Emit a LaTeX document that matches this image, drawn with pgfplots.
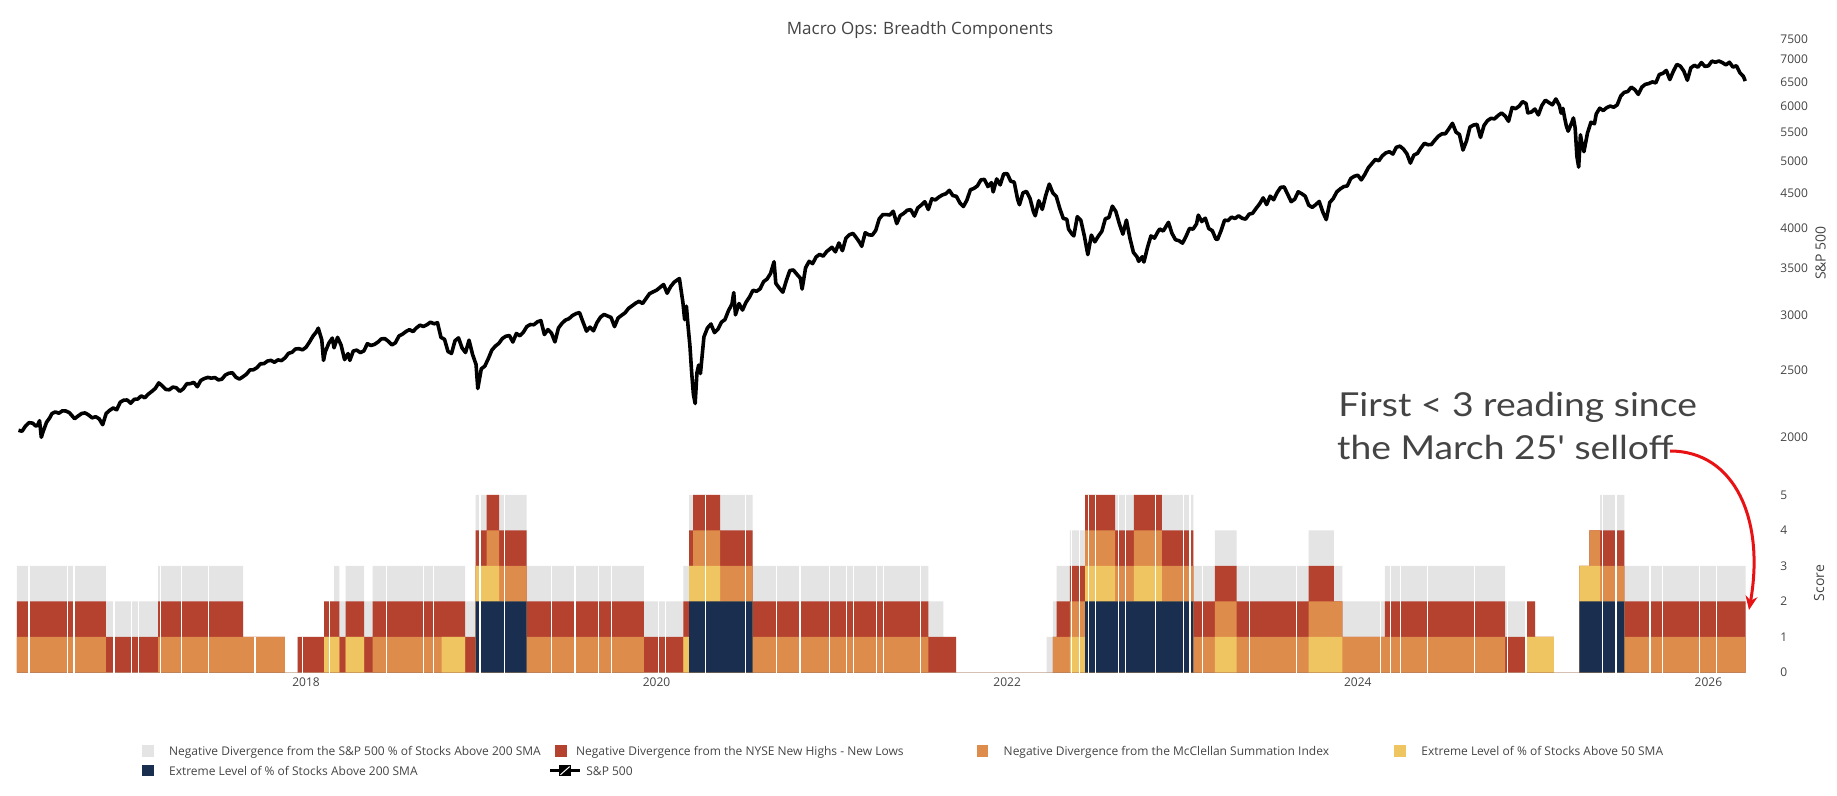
\documentclass[border=0pt]{standalone}
\usepackage{fontspec}
\setmainfont{Open Sans}
\newfontfamily\handfont[FakeStretch=1.13]{Lato}
\usepackage{pgfplots}
\usepackage{pgfplotstable}
\pgfplotsset{compat=1.18}
\usetikzlibrary{arrows.meta}
\definecolor{cgray}{RGB}{228,228,228}
\definecolor{cred}{RGB}{181,65,47}
\definecolor{corange}{RGB}{222,140,75}
\definecolor{cyellow}{RGB}{238,197,97}
\definecolor{cnavy}{RGB}{26,46,80}
\definecolor{textgray}{RGB}{68,68,68}
\definecolor{arrowred}{RGB}{232,18,20}

% n = Extreme 200 SMA (2 points), y = Extreme 50 SMA, o = McClellan, r = NH-NL, g = S&P 200 SMA divergence
\pgfplotstableread{
x        n y o r g
2016.350 0 0 1 1 1
2016.859 0 0 0 1 1
2017.156 0 0 1 1 1
2017.641 0 0 1 0 0
2017.880 0 0 0 0 0
2017.952 0 0 0 1 0
2018.103 0 1 0 1 0
2018.160 0 1 0 1 1
2018.190 0 0 0 1 1
2018.226 0 1 0 1 1
2018.331 0 0 0 1 1
2018.380 0 0 1 1 1
2018.774 0 1 0 1 1
2018.907 0 0 0 1 1
2018.968 2 1 0 1 1
2019.031 2 1 1 1 0
2019.101 2 0 1 1 1
2019.259 0 0 1 1 1
2019.928 0 0 0 1 1
2020.152 0 1 0 1 1
2020.185 2 1 0 1 1
2020.209 2 1 1 1 0
2020.362 2 0 1 1 1
2020.548 0 0 1 1 1
2021.550 0 0 0 1 1
2021.636 0 0 0 1 0
2021.708 0 0 0 0 0
2022.225 0 0 0 0 1
2022.260 0 0 1 0 1
2022.282 0 0 1 1 1
2022.358 0 1 1 1 1
2022.444 2 1 1 1 0
2022.615 2 0 1 1 1
2022.723 2 1 1 1 0
2022.883 2 0 1 1 1
2023.062 0 0 1 1 1
2023.185 0 1 1 1 1
2023.309 0 0 1 1 1
2023.720 0 1 1 1 1
2023.864 0 1 1 0 1
2023.912 0 0 1 0 1
2024.155 0 0 1 1 1
2024.840 0 0 0 1 1
2024.964 0 1 0 1 0
2025.011 0 1 0 0 0
2025.119 0 0 0 0 0
2025.264 2 1 0 0 0
2025.321 2 1 1 0 0
2025.382 2 0 1 1 1
2025.520 0 0 1 1 1
2026.213 0 0 0 0 0
}\bars

\newcommand{\tickfont}{\fontsize{6pt}{7.2pt}\selectfont}

\begin{document}
\begin{tikzpicture}
\path[use as bounding box] (0,0) rectangle (918.5pt,-398pt);

% ---------------- S&P 500 panel ----------------
\begin{axis}[
  at={(4pt,-235.5pt)}, anchor=south west, scale only axis,
  width=883.5pt, height=218pt,
  xmin=2016.30, xmax=2026.38,
  ymode=log, ymin=1788.5, ymax=7598,
  ytick={2000,2500,3000,3500,4000,4500,5000,5500,6000,6500,7000,7500},
  yticklabels={2000,2500,3000,3500,4000,4500,5000,5500,6000,6500,7000,7500},
  xtick=\empty,
  axis line style={draw=none}, tick style={draw=none},
  ytick pos=right, yticklabel pos=right,
  yticklabel style={font=\tickfont, text=textgray, inner sep=0pt, xshift=2.5pt, anchor=west},
]
\addplot[black, line width=1.8pt, line join=round] coordinates {
(2016.36,2047) (2016.38,2040) (2016.40,2076) (2016.42,2099) (2016.44,2096) (2016.46,2075) (2016.47,2085) (2016.48,2113) (2016.49,2000) (2016.50,2037)
(2016.52,2102) (2016.54,2137) (2016.55,2163) (2016.57,2175) (2016.59,2166) (2016.61,2183) (2016.63,2182) (2016.65,2170) (2016.68,2127) (2016.70,2146)
(2016.72,2164) (2016.74,2168) (2016.76,2153) (2016.78,2133) (2016.80,2141) (2016.82,2126) (2016.84,2085) (2016.86,2164) (2016.88,2187) (2016.90,2204)
(2016.92,2191) (2016.94,2246) (2016.96,2262) (2016.98,2263) (2017.00,2239) (2017.02,2268) (2017.04,2270) (2017.06,2294) (2017.08,2280) (2017.10,2307)
(2017.12,2328) (2017.14,2351) (2017.16,2395) (2017.18,2372) (2017.20,2344) (2017.22,2341) (2017.24,2362) (2017.26,2357) (2017.28,2329) (2017.30,2349)
(2017.32,2388) (2017.34,2389) (2017.36,2399) (2017.38,2365) (2017.40,2415) (2017.42,2430) (2017.44,2439) (2017.46,2433) (2017.48,2438) (2017.50,2419)
(2017.52,2425) (2017.54,2459) (2017.56,2473) (2017.58,2477) (2017.60,2441) (2017.62,2426) (2017.64,2444) (2017.66,2465) (2017.68,2500) (2017.70,2502)
(2017.72,2519) (2017.74,2552) (2017.76,2553) (2017.78,2575) (2017.80,2581) (2017.82,2565) (2017.84,2585) (2017.86,2579) (2017.88,2602) (2017.90,2642)
(2017.92,2651) (2017.94,2680) (2017.96,2683) (2017.98,2673) (2018.00,2695) (2018.02,2743) (2018.04,2798) (2018.06,2839) (2018.07,2872) (2018.09,2762)
(2018.10,2581) (2018.11,2656) (2018.13,2732) (2018.15,2779) (2018.16,2691) (2018.18,2786) (2018.20,2716) (2018.22,2588) (2018.24,2640) (2018.25,2581)
(2018.27,2663) (2018.29,2670) (2018.31,2648) (2018.33,2663) (2018.35,2728) (2018.37,2712) (2018.39,2721) (2018.41,2742) (2018.43,2772) (2018.45,2774)
(2018.47,2749) (2018.49,2717) (2018.51,2736) (2018.53,2798) (2018.55,2815) (2018.57,2840) (2018.59,2858) (2018.61,2840) (2018.63,2874) (2018.65,2901)
(2018.67,2888) (2018.69,2905) (2018.71,2930) (2018.73,2914) (2018.75,2925) (2018.77,2785) (2018.79,2768) (2018.81,2658) (2018.83,2641) (2018.85,2755)
(2018.87,2781) (2018.89,2690) (2018.91,2649) (2018.93,2760) (2018.95,2633) (2018.97,2546) (2018.98,2351) (2019.00,2510) (2019.02,2532) (2019.04,2596)
(2019.06,2670) (2019.08,2706) (2019.10,2731) (2019.12,2775) (2019.14,2796) (2019.16,2803) (2019.18,2743) (2019.20,2822) (2019.22,2800) (2019.24,2834)
(2019.26,2888) (2019.28,2907) (2019.30,2905) (2019.32,2933) (2019.34,2945) (2019.36,2812) (2019.38,2859) (2019.40,2826) (2019.42,2744) (2019.44,2873)
(2019.46,2918) (2019.48,2950) (2019.50,2964) (2019.52,2995) (2019.54,3014) (2019.56,3025) (2019.58,2932) (2019.60,2844) (2019.62,2882) (2019.64,2847)
(2019.66,2926) (2019.68,2979) (2019.70,3006) (2019.72,2991) (2019.74,2976) (2019.76,2887) (2019.78,2970) (2019.80,2997) (2019.82,3022) (2019.84,3067)
(2019.86,3093) (2019.88,3120) (2019.90,3140) (2019.92,3117) (2019.94,3169) (2019.96,3221) (2019.98,3240) (2020.00,3258) (2020.02,3289) (2020.04,3320)
(2020.06,3225) (2020.08,3297) (2020.10,3345) (2020.12,3373) (2020.13,3386) (2020.15,3128) (2020.16,2954) (2020.17,3090) (2020.18,2882) (2020.19,2711)
(2020.20,2480) (2020.21,2304) (2020.22,2237) (2020.23,2475) (2020.24,2541) (2020.25,2470) (2020.27,2790) (2020.29,2874) (2020.31,2912) (2020.33,2830)
(2020.35,2863) (2020.37,2930) (2020.39,2955) (2020.41,3044) (2020.43,3112) (2020.44,3232) (2020.45,3002) (2020.47,3117) (2020.49,3050) (2020.51,3130)
(2020.53,3185) (2020.55,3257) (2020.57,3246) (2020.59,3271) (2020.61,3351) (2020.63,3380) (2020.65,3443) (2020.67,3580) (2020.68,3332) (2020.70,3281)
(2020.72,3236) (2020.74,3363) (2020.76,3477) (2020.78,3484) (2020.80,3435) (2020.82,3390) (2020.83,3270) (2020.85,3510) (2020.87,3585) (2020.89,3558)
(2020.91,3638) (2020.93,3669) (2020.95,3647) (2020.97,3703) (2021.00,3756) (2021.02,3700) (2021.04,3810) (2021.06,3714) (2021.08,3871) (2021.10,3916)
(2021.12,3934) (2021.14,3876) (2021.16,3811) (2021.17,3768) (2021.19,3943) (2021.21,3915) (2021.23,3910) (2021.25,3973) (2021.27,4128) (2021.29,4185)
(2021.31,4187) (2021.33,4181) (2021.35,4233) (2021.37,4063) (2021.39,4173) (2021.41,4204) (2021.43,4247) (2021.45,4255) (2021.47,4166) (2021.49,4281)
(2021.51,4320) (2021.53,4369) (2021.55,4258) (2021.57,4412) (2021.59,4395) (2021.61,4436) (2021.63,4468) (2021.65,4486) (2021.67,4537) (2021.69,4459)
(2021.71,4448) (2021.73,4352) (2021.75,4300) (2021.77,4391) (2021.79,4545) (2021.81,4566) (2021.83,4605) (2021.85,4697) (2021.87,4705) (2021.89,4594)
(2021.91,4655) (2021.92,4513) (2021.94,4712) (2021.96,4620) (2021.98,4791) (2022.00,4796) (2022.02,4677) (2022.04,4662) (2022.06,4398) (2022.07,4326)
(2022.09,4500) (2022.11,4521) (2022.13,4418) (2022.15,4225) (2022.16,4170) (2022.18,4384) (2022.20,4259) (2022.22,4463) (2022.24,4632) (2022.26,4500)
(2022.28,4446) (2022.30,4272) (2022.32,4132) (2022.34,4123) (2022.35,3991) (2022.37,3923) (2022.38,3901) (2022.40,4158) (2022.42,4108) (2022.44,3901)
(2022.46,3666) (2022.48,3911) (2022.50,3825) (2022.52,3899) (2022.54,3961) (2022.56,4130) (2022.58,4145) (2022.60,4305) (2022.62,4228) (2022.64,4058)
(2022.66,3924) (2022.68,4110) (2022.70,3873) (2022.72,3693) (2022.74,3640) (2022.75,3585) (2022.77,3640) (2022.78,3577) (2022.80,3752) (2022.82,3901)
(2022.84,3872) (2022.86,3957) (2022.87,3992) (2022.89,3965) (2022.92,4080) (2022.94,3934) (2022.96,3852) (2022.98,3839) (2023.00,3808) (2023.02,3895)
(2023.04,3999) (2023.06,3990) (2023.08,4060) (2023.09,4179) (2023.11,4090) (2023.13,4136) (2023.15,3997) (2023.17,3970) (2023.19,3861) (2023.20,3855)
(2023.22,3970) (2023.24,4109) (2023.26,4105) (2023.28,4151) (2023.30,4133) (2023.32,4170) (2023.34,4136) (2023.36,4124) (2023.38,4192) (2023.40,4205)
(2023.42,4274) (2023.44,4338) (2023.46,4425) (2023.48,4328) (2023.50,4450) (2023.52,4398) (2023.54,4505) (2023.56,4582) (2023.58,4588) (2023.60,4478)
(2023.62,4370) (2023.64,4405) (2023.66,4515) (2023.68,4487) (2023.70,4450) (2023.72,4320) (2023.74,4288) (2023.76,4327) (2023.78,4373) (2023.80,4224)
(2023.82,4117) (2023.84,4358) (2023.86,4415) (2023.88,4514) (2023.90,4559) (2023.92,4594) (2023.94,4604) (2023.96,4719) (2023.98,4754) (2024.00,4770)
(2024.02,4697) (2024.04,4783) (2024.06,4890) (2024.08,4958) (2024.10,5026) (2024.12,5005) (2024.14,5088) (2024.16,5137) (2024.18,5157) (2024.20,5117)
(2024.22,5234) (2024.24,5254) (2024.26,5204) (2024.28,5123) (2024.30,4967) (2024.32,5100) (2024.34,5128) (2024.36,5222) (2024.38,5303) (2024.40,5278)
(2024.42,5283) (2024.44,5361) (2024.46,5431) (2024.48,5473) (2024.50,5475) (2024.52,5567) (2024.54,5667) (2024.56,5505) (2024.58,5459) (2024.60,5186)
(2024.62,5344) (2024.64,5597) (2024.66,5634) (2024.68,5648) (2024.70,5408) (2024.72,5626) (2024.74,5718) (2024.76,5762) (2024.78,5751) (2024.80,5815)
(2024.82,5864) (2024.84,5808) (2024.86,5705) (2024.88,5973) (2024.90,5949) (2024.92,5998) (2024.94,6090) (2024.96,6051) (2024.97,5867) (2024.99,5882)
(2025.01,5942) (2025.03,5827) (2025.05,6012) (2025.07,6118) (2025.09,6071) (2025.11,6026) (2025.13,6144) (2025.15,6013) (2025.16,5861) (2025.17,5955)
(2025.18,5770) (2025.19,5614) (2025.20,5521) (2025.22,5675) (2025.23,5768) (2025.24,5580) (2025.25,5074) (2025.26,4900) (2025.27,5456) (2025.28,5268)
(2025.29,5158) (2025.31,5484) (2025.33,5687) (2025.35,5660) (2025.36,5844) (2025.38,5958) (2025.40,5912) (2025.42,5970) (2025.44,6000) (2025.46,5977)
(2025.48,6025) (2025.50,6205) (2025.52,6279) (2025.54,6297) (2025.56,6389) (2025.58,6339) (2025.60,6238) (2025.62,6389) (2025.64,6449) (2025.66,6466)
(2025.68,6502) (2025.70,6481) (2025.72,6664) (2025.74,6688) (2025.76,6753) (2025.78,6552) (2025.80,6735) (2025.82,6890) (2025.84,6851) (2025.86,6737)
(2025.88,6538) (2025.90,6812) (2025.92,6870) (2025.94,6827) (2025.96,6932) (2025.98,6845) (2026.00,6858) (2026.02,6966) (2026.04,6940) (2026.06,6969)
(2026.08,6930) (2026.10,6880) (2026.12,6940) (2026.14,6830) (2026.16,6860) (2026.18,6700) (2026.20,6620) (2026.21,6520)
};
\end{axis}

% ---------------- Score panel: interval bars, cumulative heights drawn top layer first ----------------
\begin{axis}[
  at={(4pt,-336.25pt)}, anchor=south west, scale only axis,
  width=883.5pt, height=88.75pt,
  xmin=2016.30, xmax=2026.38, ymin=0, ymax=5,
  xtick={2018,2020,2022,2024,2026}, xticklabels={2018,2020,2022,2024,2026},
  ytick={0,1,2,3,4,5}, yticklabels={0,1,2,3,4,5},
  axis line style={draw=none}, tick style={draw=none},
  ytick pos=right, yticklabel pos=right,
  yticklabel style={font=\tickfont, text=textgray, inner sep=0pt, xshift=2.5pt, anchor=west},
  xticklabel style={font=\tickfont, text=textgray, inner sep=0pt, yshift=-2.5pt, anchor=north},
]
\addplot[ybar interval, fill=cgray, draw=none] table[x=x, y expr=\thisrow{n}+\thisrow{y}+\thisrow{o}+\thisrow{r}+\thisrow{g}] {\bars};
\addplot[ybar interval, fill=cred, draw=none] table[x=x, y expr=\thisrow{n}+\thisrow{y}+\thisrow{o}+\thisrow{r}] {\bars};
\addplot[ybar interval, fill=corange, draw=none] table[x=x, y expr=\thisrow{n}+\thisrow{y}+\thisrow{o}] {\bars};
\addplot[ybar interval, fill=cyellow, draw=none] table[x=x, y expr=\thisrow{n}+\thisrow{y}] {\bars};
\addplot[ybar interval, fill=cnavy, draw=none] table[x=x, y=n] {\bars};
\end{axis}

% ---------------- white separators between bars ----------------
\begin{axis}[
  at={(4pt,-336.25pt)}, anchor=south west, scale only axis,
  width=883.5pt, height=88.75pt,
  xmin=2016.30, xmax=2026.38, ymin=0, ymax=5,
  hide axis,
]
\addplot[ycomb, white, line width=0.6pt, mark=none] coordinates {
(2016.420,3) (2016.640,3) (2016.677,3) (2016.905,2) (2017.006,2) (2017.043,2) (2017.171,3) (2017.291,3) (2017.443,3) (2017.709,1)
(2017.979,1) (2018.133,2) (2018.460,3) (2018.669,3) (2018.726,3) (2018.993,5) (2019.131,5) (2019.402,3) (2019.535,3) (2019.668,3)
(2019.744,3) (2020.010,2) (2020.052,2) (2020.280,5) (2020.508,5) (2020.685,3) (2020.818,3) (2020.985,3) (2021.084,3) (2021.122,3)
(2021.256,3) (2021.293,3) (2021.507,3) (2022.368,4) (2022.411,4) (2022.463,5) (2022.505,5) (2022.634,5) (2022.676,5) (2022.845,5)
(2023.005,5) (2023.043,5) (2023.115,3) (2023.381,3) (2023.651,3) (2024.131,2) (2024.188,3) (2024.245,3) (2024.399,3) (2024.665,3)
(2024.854,2) (2024.960,2) (2025.397,5) (2025.473,5) (2025.667,3) (2025.739,3) (2025.948,3) (2026.047,3)
};
\end{axis}

% ---------------- titles ----------------
\node[anchor=base, inner sep=0pt, text=textgray, font=\fontsize{8.5pt}{10pt}\selectfont] at (460pt,-17.5pt) {Macro Ops: Breadth Components};
\node[rotate=90, inner sep=0pt, text=textgray, font=\fontsize{7pt}{8pt}\selectfont] at (910.35pt,-126.5pt) {S\&P 500};
\node[rotate=90, inner sep=0pt, text=textgray, font=\fontsize{7pt}{8pt}\selectfont] at (909.5pt,-291.5pt) {Score};

% ---------------- annotation ----------------
\node[anchor=base west, inner sep=0pt, text=textgray, font=\handfont\fontsize{16.5pt}{19pt}\selectfont] at (669pt,-208.35pt) {First < 3 reading since};
\node[anchor=base west, inner sep=0pt, text=textgray, font=\handfont\fontsize{16.5pt}{19pt}\selectfont] at (668.35pt,-229.5pt) {the March 25' selloff};
\draw[arrowred, line width=1.5pt, -{Stealth[length=7pt, width=6pt]}] (835pt,-225.5pt) .. controls (867.5pt,-225.5pt) and (882.5pt,-260pt) .. (874.5pt,-305pt);

% ---------------- legend ----------------
\begin{scope}[every node/.style={anchor=base west, inner sep=0pt, text=textgray, font=\tickfont}]
\fill[cgray]   (71.15pt,-372.6pt) rectangle ++(5.75pt,-5.75pt);
\node at (84.35pt,-377.65pt) {Negative Divergence from the S\&P 500 \% of Stocks Above 200 SMA};
\fill[cred]    (277.5pt,-372.6pt) rectangle ++(5.75pt,-5.75pt);
\node at (287.85pt,-377.65pt) {Negative Divergence from the NYSE New Highs - New Lows};
\fill[corange] (488.35pt,-372.6pt) rectangle ++(5.75pt,-5.75pt);
\node at (501.65pt,-377.65pt) {Negative Divergence from the McClellan Summation Index};
\fill[cyellow] (697pt,-372.6pt) rectangle ++(5.75pt,-5.75pt);
\node at (710.5pt,-377.65pt) {Extreme Level of \% of Stocks Above 50 SMA};
\fill[cnavy]   (71.15pt,-382.45pt) rectangle ++(5.75pt,-5.75pt);
\node at (84.35pt,-387.5pt) {Extreme Level of \% of Stocks Above 200 SMA};
\draw[black, line width=1.4pt] (275pt,-385.35pt) -- (290pt,-385.35pt);
\fill[black] (279.5pt,-382.6pt) rectangle (285.5pt,-388.1pt);
\draw[white, line width=0.5pt] (280.2pt,-387.4pt) -- (284.8pt,-383.3pt);
\node at (293pt,-387.5pt) {S\&P 500};
\end{scope}
\end{tikzpicture}
\end{document}
